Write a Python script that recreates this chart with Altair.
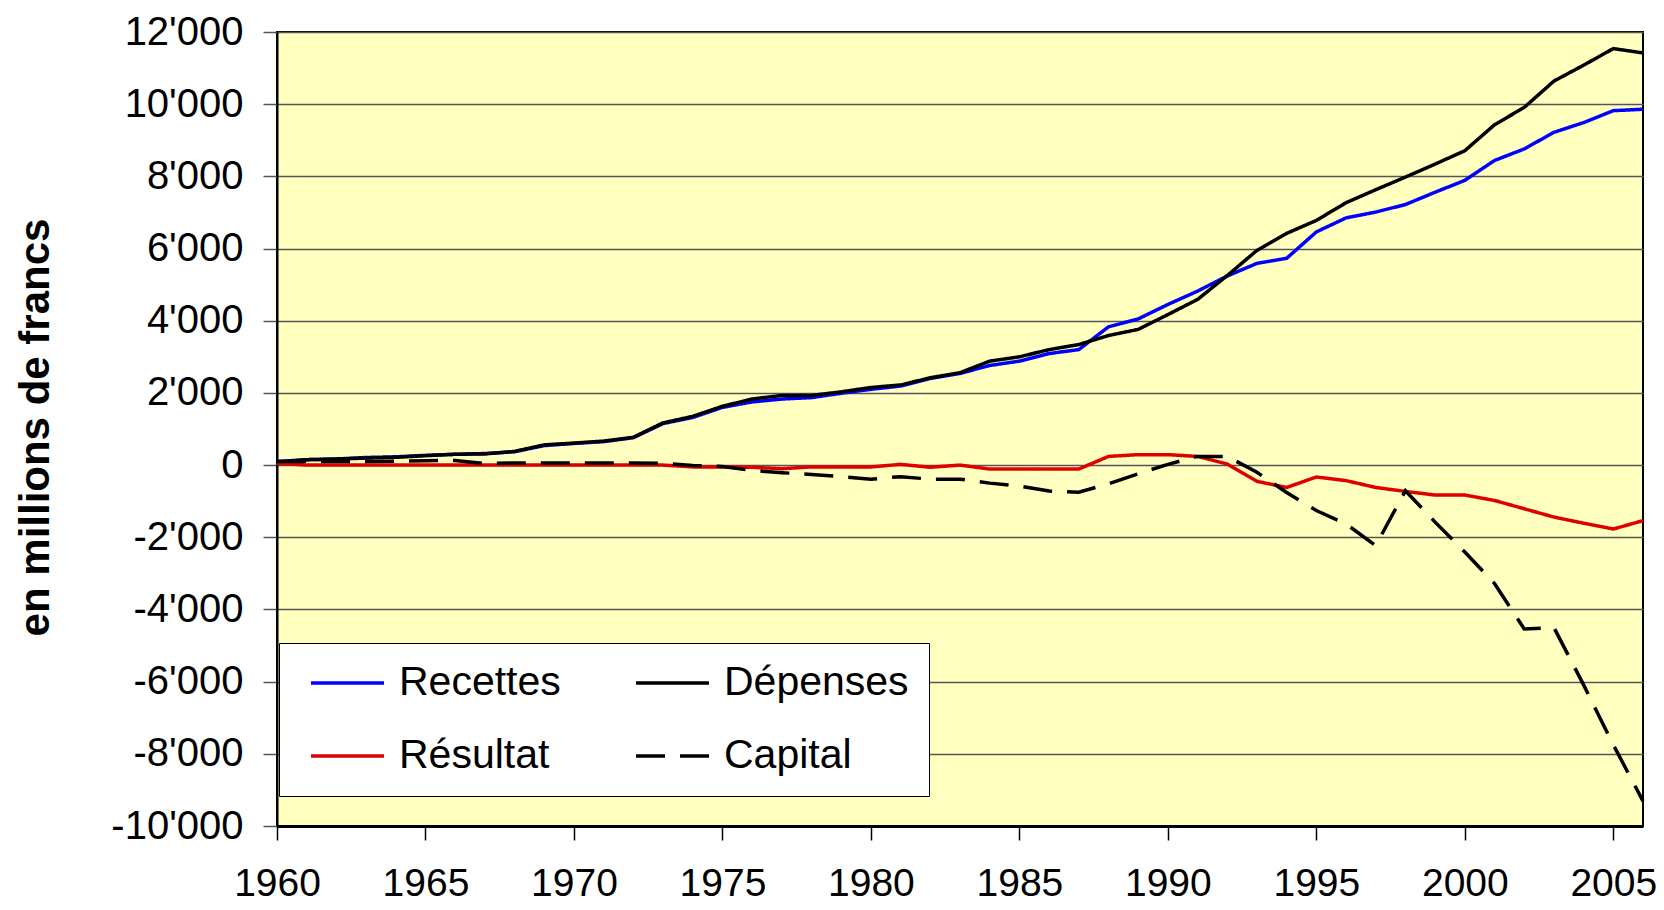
import altair as alt
import pandas as pd

years = list(range(1960, 2007))

recettes = [100, 150, 170, 210, 230, 270, 300, 320, 370, 540,
            600, 650, 760, 1150, 1320, 1600, 1750, 1830, 1870, 1990,
            2100, 2190, 2400, 2540, 2760, 2880, 3090, 3200, 3830, 4050,
            4450, 4820, 5240, 5590, 5730, 6460, 6850, 7010, 7220, 7560,
            7890, 8440, 8760, 9220, 9490, 9820, 9860]

depenses = [80, 150, 165, 195, 215, 260, 300, 310, 380, 560,
            610, 665, 770, 1170, 1350, 1630, 1830, 1930, 1930, 2030,
            2150, 2220, 2420, 2560, 2880, 3000, 3200, 3340, 3590, 3760,
            4170, 4590, 5250, 5950, 6420, 6780, 7270, 7630, 7980, 8340,
            8710, 9430, 9910, 10640, 11080, 11540, 11420]

resultat = [50, 0, 0, 0, 0, 0, 0, 0, 0, 0,
            0, 0, 0, 0, -50, -50, -60, -100, -50, -50,
            -50, 20, -60, 0, -110, -110, -110, -110, 240, 290,
            290, 240, 30, -450, -620, -330, -430, -620, -730, -830,
            -830, -980, -1210, -1440, -1610, -1770, -1540]

capital = [100, 100, 100, 100, 110, 120, 130, 40, 60, 60,
           60, 60, 60, 50, -10, -40, -150, -210, -260, -320,
           -390, -320, -390, -390, -500, -580, -720, -750, -520, -240,
           20, 240, 240, -200, -760, -1260, -1630, -2230, -710, -1580,
           -2410, -3280, -4540, -4500, -6090, -7750, -9310]

# legend order (filled column by column): Recettes / Résultat | Dépenses / Capital
series = ["Recettes", "Résultat", "Dépenses", "Capital"]
colors = ["#0000FF", "#E00000", "#000000", "#000000"]
dashes = [[1, 0], [1, 0], [1, 0], [29, 15]]
x_ticks = list(range(1960, 2006, 5))
y_ticks = list(range(-10000, 12001, 2000))

values_by_series = {
    "Recettes": recettes,
    "Dépenses": depenses,
    "Résultat": resultat,
    "Capital": capital,
}
rows = []
for name in ["Recettes", "Dépenses", "Résultat", "Capital"]:
    for yr, v in zip(years, values_by_series[name]):
        rows.append({"Année": yr, "Valeur": v, "Série": name})
df = pd.DataFrame(rows)

FONT = "Liberation Sans, Arial, sans-serif"

legend = alt.Legend(
    title=None, orient="none", legendX=2, legendY=611, columns=2,
    fillColor="white", strokeColor="black", padding=20,
    labelFont=FONT, labelFontSize=41, labelColor="black",
    symbolType="stroke", symbolSize=5329, symbolStrokeWidth=3.5,
    columnPadding=63, rowPadding=32, labelOffset=13, symbolOffset=10,
    labelLimit=0, clipHeight=40,
)

chart = alt.Chart(df).mark_line(strokeWidth=3.5).encode(
    x=alt.X("Année:Q",
            scale=alt.Scale(domain=[1960, 2006], nice=False, zero=False),
            axis=alt.Axis(values=x_ticks, format="d", title=None, grid=False,
                          labelFont=FONT, labelFontSize=39, labelColor="black",
                          tickSize=14, tickColor="black", tickWidth=1.5,
                          domainColor="black", domainWidth=3,
                          labelPadding=24, labelFlush=False)),
    y=alt.Y("Valeur:Q",
            scale=alt.Scale(domain=[-10000, 12000], nice=False),
            axis=alt.Axis(values=y_ticks,
                          labelExpr="(datum.value < 0 ? '-' : '') + replace(format(abs(datum.value), ','), ',', \"'\")",
                          title="en millions de francs",
                          titleFont=FONT, titleFontSize=42, titleFontWeight="bold",
                          titleColor="black", titleX=-229, titleY=395,
                          titleBaseline="alphabetic", titleAngle=270,
                          labelFont=FONT, labelFontSize=40, labelColor="black",
                          labelPadding=20, tickSize=14, tickColor="#555555",
                          tickWidth=1.5, domainColor="black", domainWidth=2,
                          grid=True, gridColor="#555555", gridWidth=1.5)),
    color=alt.Color("Série:N", scale=alt.Scale(domain=series, range=colors), legend=legend),
    strokeDash=alt.StrokeDash("Série:N", scale=alt.Scale(domain=series, range=dashes), legend=legend),
).properties(
    width=1366, height=794,
    autosize=alt.AutoSizeParams(type="none"),
    padding={"left": 269, "top": 24, "right": 13, "bottom": 76},
).configure_view(
    fill="#FFFFC0", stroke="black", strokeWidth=2,
)

chart.save("out.html", embed_options={"renderer": "svg", "actions": False})
